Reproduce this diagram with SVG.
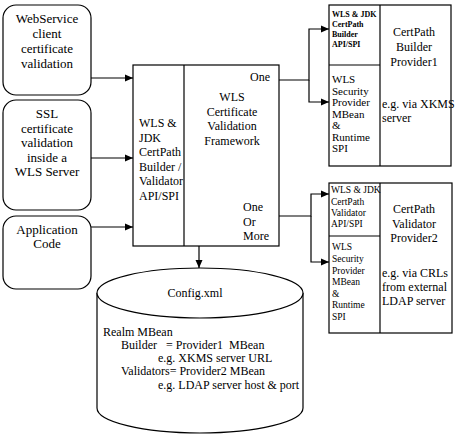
<svg xmlns="http://www.w3.org/2000/svg" width="456" height="436" viewBox="0 0 456 436" font-family="'Liberation Serif', 'Times New Roman', serif">
<defs>
<marker id="ah" markerWidth="8" markerHeight="8" refX="8" refY="4" orient="auto" markerUnits="userSpaceOnUse">
<path d="M0,0.5 L8,4 L0,7.5 Z" fill="#000"/>
</marker>
</defs>
<style>
.b{fill:#fff;stroke:#000;stroke-width:1.2}
.l{fill:none;stroke:#000;stroke-width:1.2}
text{font-family:'Liberation Serif',serif;font-size:12px;fill:#000}
.c{text-anchor:middle}
.s{font-size:11px}
.t{font-size:8px;font-weight:bold}
.u{font-size:9.5px}
.m{font-size:13px}
</style>
<rect width="456" height="436" fill="#fff"/>
<g id="connectors">
<path class="l" d="M91,78 H133" marker-end="url(#ah)"/>
<path class="l" d="M91,158 H133" marker-end="url(#ah)"/>
<path class="l" d="M91,227 H133" marker-end="url(#ah)"/>
<path class="l" d="M279,80 H309 V29 H329" marker-end="url(#ah)"/>
<path class="l" d="M309,80 V102 H329" marker-end="url(#ah)"/>
<path class="l" d="M279,216 H311 V194 H329" marker-end="url(#ah)"/>
<path class="l" d="M311,216 V262 H329" marker-end="url(#ah)"/>
<path class="l" d="M199,246 V268" marker-end="url(#ah)"/>
</g>
<g id="webservice">
<rect class="b" x="3" y="5" width="88" height="90" rx="13"/>
<text class="c m" x="47" y="23">WebService</text>
<text class="c m" x="47" y="38">client</text>
<text class="c m" x="47" y="53">certificate</text>
<text class="c m" x="47" y="68">validation</text>
</g>
<g id="ssl">
<rect class="b" x="3" y="100" width="88" height="110" rx="13"/>
<text class="c m" x="47" y="118">SSL</text>
<text class="c m" x="47" y="132.5">certificate</text>
<text class="c m" x="47" y="147">validation</text>
<text class="c m" x="47" y="161.5">inside a</text>
<text class="c m" x="47" y="176">WLS Server</text>
</g>
<g id="appcode">
<rect class="b" x="3" y="216" width="88" height="73" rx="13"/>
<text class="c m" x="47" y="234">Application</text>
<text class="c m" x="47" y="248">Code</text>
</g>
<g id="framework">
<rect class="b" x="133" y="65" width="146" height="181"/>
<line class="l" x1="184" y1="65" x2="184" y2="246"/>
<text x="139" y="127">WLS &amp;</text>
<text x="139" y="141.5">JDK</text>
<text x="139" y="156">CertPath</text>
<text x="139" y="170.5">Builder /</text>
<text x="139" y="185">Validator</text>
<text x="139" y="199.5">API/SPI</text>
<text x="250" y="81">One</text>
<text class="c" x="232" y="101">WLS</text>
<text class="c" x="232" y="115.5">Certificate</text>
<text class="c" x="232" y="130">Validation</text>
<text class="c" x="232" y="144.5">Framework</text>
<text x="243" y="211">One</text>
<text x="243" y="226">Or</text>
<text x="243" y="240">More</text>
</g>
<g id="builder-provider">
<rect class="b" x="329" y="5" width="122" height="161"/>
<line class="l" x1="380" y1="5" x2="380" y2="166"/>
<line class="l" x1="329" y1="65" x2="380" y2="65"/>
<text class="t" x="332" y="17">WLS &amp; JDK</text>
<text class="t" x="332" y="27">CertPath</text>
<text class="t" x="332" y="37">Builder</text>
<text class="t" x="332" y="47">API/SPI</text>
<text class="s" x="332" y="83">WLS</text>
<text class="s" x="332" y="94.5">Security</text>
<text class="s" x="332" y="106">Provider</text>
<text class="s" x="332" y="117.5">MBean</text>
<text class="s" x="332" y="129"> &amp;</text>
<text class="s" x="332" y="140.5">Runtime</text>
<text class="s" x="332" y="152">SPI</text>
<text class="c" x="414" y="36">CertPath</text>
<text class="c" x="414" y="51">Builder</text>
<text class="c" x="414" y="66">Provider1</text>
<text x="382" y="108">e.g. via XKMS</text>
<text x="382" y="122">server</text>
</g>
<g id="validator-provider">
<rect class="b" x="329" y="183" width="123" height="150"/>
<line class="l" x1="380" y1="183" x2="380" y2="333"/>
<line class="l" x1="329" y1="236" x2="380" y2="236"/>
<text class="u" x="331" y="193">WLS &amp; JDK</text>
<text class="u" x="331" y="205">CertPath</text>
<text class="u" x="331" y="216">Validator</text>
<text class="u" x="331" y="227">API/SPI</text>
<text class="u" x="332" y="250">WLS</text>
<text class="u" x="332" y="262">Security</text>
<text class="u" x="332" y="274">Provider</text>
<text class="u" x="332" y="285">MBean</text>
<text class="u" x="332" y="297"> &amp;</text>
<text class="u" x="332" y="308">Runtime</text>
<text class="u" x="332" y="320">SPI</text>
<text class="c" x="414" y="213">CertPath</text>
<text class="c" x="414" y="228">Validator</text>
<text class="c" x="414" y="242">Provider2</text>
<text x="382" y="277">e.g. via CRLs</text>
<text x="382" y="291">from external</text>
<text x="382" y="305">LDAP server</text>
</g>
<g id="config">
<path class="b" d="M97,293 V408 A103,25 0 0 0 303,408 V293"/>
<ellipse class="b" cx="200" cy="293" rx="103" ry="25"/>
<text class="c" x="195" y="297">Config.xml</text>
<text x="103" y="336">Realm MBean</text>
<text x="121" y="349" xml:space="preserve">Builder   = Provider1  MBean</text>
<text x="158" y="362">e.g. XKMS server URL</text>
<text x="121" y="375">Validators= Provider2 MBean</text>
<text x="158" y="389">e.g. LDAP server host &amp; port</text>
</g>
</svg>
